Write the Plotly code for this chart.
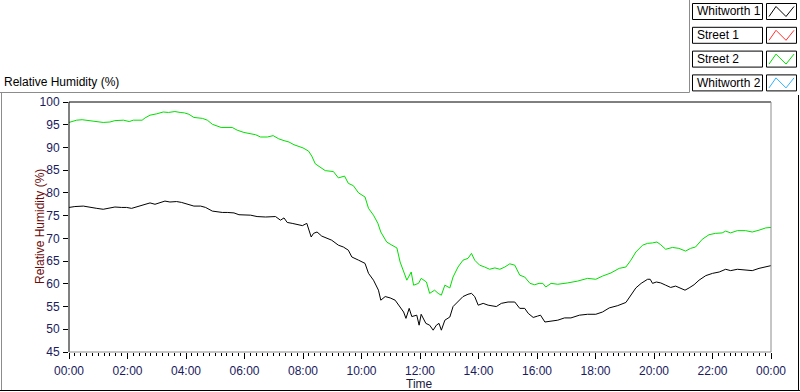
import pandas as pd
import plotly.graph_objects as go

# ---- data (hours since midnight, relative humidity %) ----
whitworth1_hours = [0, 0.2, 0.49, 0.72, 0.95, 1.17, 1.4, 1.57, 1.8, 1.97, 2.14, 2.37, 2.6, 2.77, 2.94, 3.11, 3.28, 3.45, 3.68, 3.85,
                    3.96, 4.1, 4.27, 4.5, 4.67, 4.9, 5.07, 5.24, 5.41, 5.64, 5.81, 6.04, 6.21, 6.43, 6.72, 7.06, 7.23, 7.35, 7.46, 7.63,
                    7.8, 7.98, 8.13, 8.28, 8.36, 8.48, 8.64, 8.81, 8.98, 9.21, 9.38, 9.55, 9.67, 9.9, 10.12, 10.24, 10.41, 10.58, 10.66, 10.81,
                    10.98, 11.15, 11.32, 11.44, 11.52, 11.63, 11.72, 11.89, 11.97, 12.04, 12.2, 12.33, 12.45, 12.56, 12.65, 12.73, 12.85, 13.02, 13.13, 13.3,
                    13.47, 13.64, 13.76, 13.87, 13.99, 14.16, 14.33, 14.61, 14.78, 15.01, 15.24, 15.41, 15.58, 15.7, 15.87, 16.02, 16.12, 16.27, 16.48, 16.71,
                    16.94, 17.16, 17.45, 17.73, 18.01, 18.24, 18.47, 18.76, 19.04, 19.21, 19.38, 19.56, 19.78, 19.87, 19.95, 20.08, 20.23, 20.4, 20.57, 20.74,
                    20.91, 21.06, 21.2, 21.37, 21.54, 21.77, 22.0, 22.23, 22.45, 22.62, 22.85, 23.13, 23.36, 23.59, 23.82, 24.0]
whitworth1_rh = [76.8, 77.0, 77.1, 76.8, 76.6, 76.4, 76.6, 76.9, 76.8, 76.8, 76.6, 77.1, 77.5, 77.8, 77.5, 77.9, 78.2, 78.0, 78.1, 77.9,
                 77.7, 77.5, 77.1, 77.1, 76.8, 76.0, 75.8, 75.7, 75.7, 75.6, 75.2, 75.1, 75.1, 74.8, 74.7, 74.8, 74.0, 74.5, 73.5, 73.3,
                 73.1, 72.8, 73.3, 70.3, 71.1, 71.4, 70.5, 70.1, 69.6, 68.5, 68.1, 67.4, 65.9, 65.2, 64.5, 62.3, 60.8, 58.6, 56.4, 57.2,
                 56.9, 56.4, 55.0, 53.8, 52.4, 54.6, 52.8, 53.1, 50.9, 53.3, 51.3, 50.9, 49.8, 50.9, 51.3, 49.8, 52.0, 52.7, 55.0, 56.0,
                 57.2, 57.7, 57.9, 57.2, 55.3, 55.7, 55.3, 55.0, 55.7, 56.0, 56.0, 54.6, 54.6, 53.5, 52.6, 52.9, 53.1, 51.6, 51.8, 52.0,
                 52.5, 52.5, 53.1, 53.3, 53.3, 53.8, 54.7, 55.2, 55.9, 57.5, 59.1, 60.1, 61.0, 61.0, 60.1, 60.4, 60.2, 59.7, 59.2, 59.5,
                 59.1, 58.6, 59.1, 59.8, 60.8, 61.8, 62.3, 62.6, 63.2, 62.9, 63.2, 63.0, 62.9, 63.4, 63.7, 64.0]

street2_hours = [0, 0.26, 0.45, 0.72, 0.95, 1.17, 1.4, 1.57, 1.86, 1.97, 2.06, 2.2, 2.5, 2.6, 2.77, 3.0, 3.22, 3.4, 3.62, 3.8,
                 3.95, 4.1, 4.27, 4.56, 4.73, 4.9, 5.07, 5.2, 5.58, 5.75, 5.98, 6.2, 6.38, 6.55, 6.78, 6.98, 7.17, 7.35, 7.52, 7.69,
                 7.86, 8.0, 8.19, 8.3, 8.42, 8.59, 8.76, 9.04, 9.21, 9.42, 9.55, 9.72, 9.9, 10.12, 10.24, 10.41, 10.56, 10.66, 10.86, 11.04,
                 11.21, 11.32, 11.44, 11.55, 11.7, 11.78, 11.95, 12.04, 12.22, 12.33, 12.5, 12.62, 12.73, 12.85, 13.02, 13.13, 13.3, 13.47, 13.64, 13.76,
                 13.87, 14.04, 14.21, 14.38, 14.56, 14.73, 14.9, 15.07, 15.24, 15.41, 15.58, 15.76, 15.92, 16.07, 16.2, 16.3, 16.48, 16.71, 17.05, 17.39,
                 17.73, 18.01, 18.24, 18.53, 18.81, 19.04, 19.21, 19.38, 19.61, 19.78, 19.95, 20.1, 20.23, 20.4, 20.63, 20.85, 21.08, 21.25, 21.42, 21.65,
                 21.88, 22.1, 22.33, 22.45, 22.62, 22.85, 23.13, 23.36, 23.59, 23.82, 24.0]
street2_rh = [95.5, 96.0, 96.1, 95.9, 95.6, 95.5, 95.6, 95.9, 96.0, 95.8, 95.7, 96.0, 96.0, 96.5, 97.1, 97.4, 97.8, 97.7, 97.9, 97.7,
              97.6, 97.3, 96.6, 96.4, 96.0, 95.1, 94.7, 94.4, 94.4, 93.8, 93.3, 93.1, 92.8, 92.3, 92.3, 92.6, 91.9, 91.5, 91.2, 90.6,
              90.2, 89.9, 89.2, 88.1, 86.4, 85.7, 84.9, 84.7, 83.3, 83.7, 82.1, 81.6, 80.0, 79.1, 76.6, 75.1, 73.3, 71.4, 69.2, 68.5,
              67.9, 64.8, 62.6, 60.8, 62.6, 59.7, 60.1, 61.2, 60.4, 57.9, 58.6, 57.9, 57.5, 59.7, 59.1, 61.5, 63.7, 65.2, 65.6, 66.7,
              65.2, 64.1, 63.7, 63.2, 63.5, 63.2, 63.7, 64.4, 64.1, 61.9, 61.5, 60.1, 59.8, 60.1, 60.1, 59.3, 60.1, 59.9, 60.2, 60.6,
              61.2, 61.0, 61.7, 62.4, 63.4, 63.7, 65.2, 67.0, 68.5, 68.9, 69.0, 69.2, 68.6, 67.6, 68.0, 67.8, 67.2, 67.8, 68.1, 69.8,
              70.8, 71.1, 71.2, 71.6, 71.2, 71.7, 71.7, 71.4, 71.8, 72.3, 72.4]

legend_names = ["Whitworth 1", "Street 1", "Street 2", "Whitworth 2"]
legend_colors = ["#000000", "#ff3030", "#00e000", "#30b0ff"]
y_ticks = list(range(45, 101, 5))

base = pd.Timestamp("2000-01-01")
def to_time(hours):
    return [base + pd.Timedelta(hours=h) for h in hours]

W, H = 800, 392
L, R, T, B = 69, 771, 102, 352
def px(x):
    return (x - L) / (R - L)
def py(y):
    return (B - y) / (B - T)

fig = go.Figure()
fig.add_trace(go.Scatter(x=to_time(whitworth1_hours), y=whitworth1_rh, mode="lines",
                         line=dict(color="#000000", width=1), name="Whitworth 1"))
fig.add_trace(go.Scatter(x=to_time(street2_hours), y=street2_rh, mode="lines",
                         line=dict(color="#00e000", width=1), name="Street 2"))

tickfont = dict(family="Liberation Sans", size=12, color="#1a1a5e")

shapes = []
def line(x0, y0, x1, y1, color, width=1):
    shapes.append(dict(type="line", xref="paper", yref="paper", x0=px(x0), y0=py(y0), x1=px(x1), y1=py(y1),
                       line=dict(color=color, width=width), layer="above"))

# plot area frame
line(L, T, R, T, "#000000")
line(L, T, L, B, "#000000")
line(R, T, R, B, "#8c8c8c")
line(L, B, R, B, "#8c8c8c")
# outer panel frame
line(0, 92.5, 689.5, 92.5, "#8c8c8c")
line(689.5, 0, 689.5, 92.5, "#8c8c8c")
line(1.5, 92.5, 1.5, 390, "#8c8c8c")
line(0, 390.5, 800, 390.5, "#000000")
line(798.5, 95, 798.5, 390, "#000000")

annotations = []
# legend
for i, (name, col) in enumerate(zip(legend_names, legend_colors)):
    top = 3.5 + i * 23.8
    bot = top + 16
    shapes.append(dict(type="rect", xref="paper", yref="paper", x0=px(692.5), x1=px(762.5), y0=py(bot), y1=py(top),
                       line=dict(color="#000000", width=1), fillcolor="white"))
    shapes.append(dict(type="rect", xref="paper", yref="paper", x0=px(766.5), x1=px(796.5), y0=py(bot), y1=py(top),
                       line=dict(color="#000000", width=1), fillcolor="white"))
    pts = [(769, bot - 3), (776, top + 3), (786, bot - 3), (794, top + 3)]
    path = "M " + " L ".join(f"{px(a)},{py(b)}" for a, b in pts)
    shapes.append(dict(type="path", xref="paper", yref="paper", path=path, line=dict(color=col, width=1)))
    annotations.append(dict(text=name, xref="paper", yref="paper", x=px(695), y=py((top + bot) / 2),
                            xanchor="left", yanchor="middle", showarrow=False,
                            font=dict(family="Liberation Sans", size=12, color="#000000")))

annotations.append(dict(text="Relative Humidity (%)", xref="paper", yref="paper", x=px(2), y=py(82),
                        xanchor="left", yanchor="middle", showarrow=False,
                        font=dict(family="Liberation Sans", size=12, color="#000000")))
annotations.append(dict(text="Relative Humidity (%)", xref="paper", yref="paper", x=px(40), y=py(227),
                        xanchor="center", yanchor="middle", textangle=-90, showarrow=False,
                        font=dict(family="Liberation Sans", size=12, color="#6e0a0a")))
annotations.append(dict(text="Time", xref="paper", yref="paper", x=px(419), y=py(384),
                        xanchor="center", yanchor="middle", showarrow=False,
                        font=dict(family="Liberation Sans", size=12, color="#1a1a3a")))

fig.update_layout(
    width=W, height=H,
    margin=dict(l=L, r=W - R, t=T, b=H - B, pad=0),
    paper_bgcolor="white", plot_bgcolor="white",
    showlegend=False,
    shapes=shapes, annotations=annotations,
    xaxis=dict(type="date", range=[base, base + pd.Timedelta(hours=24)],
               dtick=7200000, tick0=base, tickformat="%H:%M",
               ticks="outside", ticklen=6, tickcolor="#000000", tickwidth=1,
               minor=dict(dtick=720000, tick0=base, ticks="outside", ticklen=3, tickcolor="#000000", tickwidth=1, showgrid=False),
               showgrid=False, zeroline=False, showline=False,
               tickfont=tickfont, ticklabelstandoff=2, fixedrange=True),
    yaxis=dict(range=[45, 100], tickvals=y_ticks, ticks="outside", ticklen=5, tickcolor="#000000", tickwidth=1,
               showgrid=False, zeroline=False, showline=False,
               tickfont=tickfont, ticklabelstandoff=1, fixedrange=True),
)

fig.write_html("out.html", config={"displayModeBar": False},
               post_script="document.body.style.margin='0';document.body.style.overflow='hidden';")
